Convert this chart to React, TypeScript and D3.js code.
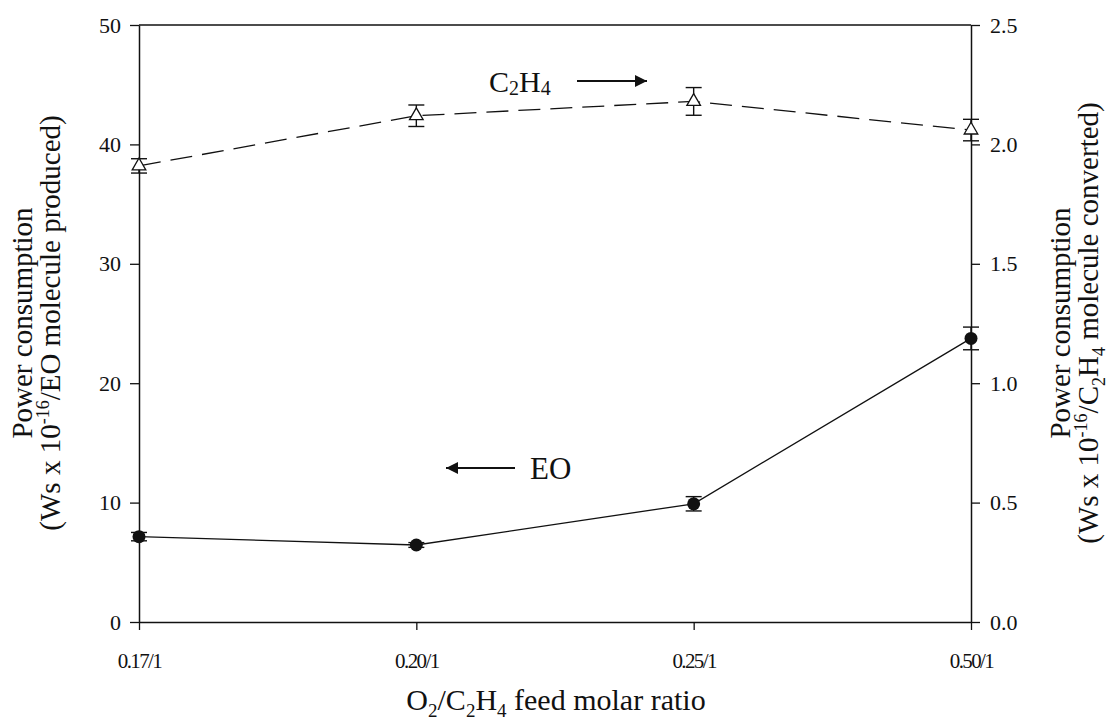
import * as d3 from "d3";
import React from "react";

const ratios = ["0.17/1", "0.20/1", "0.25/1", "0.50/1"];
const eoPower = [7.15, 6.45, 9.9, 23.75];
const eoErr = [0.35, 0.2, 0.6, 0.95];
const c2h4Power = [1.91, 2.12, 2.18, 2.06];
const c2h4Err = [0.03, 0.045, 0.058, 0.045];
const leftTicks = [0, 10, 20, 30, 40, 50];
const rightTicks = [0, 0.5, 1.0, 1.5, 2.0, 2.5];

const W = 1115;
const H = 721;
const margin = { top: 25, right: 144, bottom: 99, left: 139 };
const FONT = "'Liberation Serif', 'DejaVu Serif', serif";

export default function App() {
  const svgRef = React.useRef<SVGSVGElement>(null);

  React.useEffect(() => {
    document.body.style.margin = "0";
    if (!svgRef.current) return;
    const svg = d3.select(svgRef.current);
    svg.selectAll("*").remove();

    const innerW = W - margin.left - margin.right;
    const innerH = H - margin.top - margin.bottom;

    const x = d3.scalePoint<string>().domain(ratios).range([0, innerW]).padding(0);
    const yL = d3.scaleLinear().domain([0, 50]).range([innerH, 0]);
    const yR = d3.scaleLinear().domain([0, 2.5]).range([innerH, 0]);

    const defs = svg.append("defs");
    defs
      .append("marker")
      .attr("id", "arrow")
      .attr("viewBox", "0 0 10 10")
      .attr("refX", 10)
      .attr("refY", 5)
      .attr("markerWidth", 20)
      .attr("markerHeight", 12)
      .attr("markerUnits", "userSpaceOnUse")
      .attr("orient", "auto")
      .append("path")
      .attr("d", "M0,0 L10,5 L0,10 Z")
      .attr("fill", "#111");

    const g = svg.append("g").attr("transform", `translate(${margin.left},${margin.top})`);

    // frame top line
    g.append("line").attr("x1", 0).attr("x2", innerW).attr("y1", 0).attr("y2", 0).attr("stroke", "#111").attr("stroke-width", 1.5);

    const styleAxis = (sel: any, size: number) => {
      sel.select(".domain").attr("stroke", "#111").attr("stroke-width", 1.5);
      sel.selectAll(".tick line").attr("stroke", "#111").attr("stroke-width", 1.3);
      sel.selectAll("text").attr("font-family", FONT).attr("font-size", size).attr("fill", "#111");
    };

    const xAxis = g
      .append("g")
      .attr("transform", `translate(0,${innerH})`)
      .call(d3.axisBottom(x).tickSize(8).tickSizeOuter(0).tickPadding(23) as any);
    styleAxis(xAxis, 21);
    xAxis.selectAll("text").attr("letter-spacing", "-1.6");

    const yAxisL = g
      .append("g")
      .call(d3.axisLeft(yL).tickValues(leftTicks).tickSize(9).tickSizeOuter(0).tickPadding(9).tickFormat(d3.format("d")) as any);
    styleAxis(yAxisL, 22);

    const yAxisR = g
      .append("g")
      .attr("transform", `translate(${innerW},0)`)
      .call(d3.axisRight(yR).tickValues(rightTicks).tickSize(9).tickSizeOuter(0).tickPadding(10).tickFormat(d3.format(".1f")) as any);
    styleAxis(yAxisR, 22);

    const idx = d3.range(ratios.length);

    // C2H4 dashed series
    const lineR = d3
      .line<number>()
      .x((i) => x(ratios[i]) as number)
      .y((i) => yR(c2h4Power[i]));
    g.append("path")
      .datum(idx)
      .attr("fill", "none")
      .attr("stroke", "#111")
      .attr("stroke-width", 1.3)
      .attr("stroke-dasharray", "22,10")
      .attr("d", lineR);

    // EO solid series
    const lineL = d3
      .line<number>()
      .x((i) => x(ratios[i]) as number)
      .y((i) => yL(eoPower[i]));
    g.append("path")
      .datum(idx)
      .attr("fill", "none")
      .attr("stroke", "#111")
      .attr("stroke-width", 1.3)
      .attr("d", lineL);

    const errBars = (vals: number[], errs: number[], y: d3.ScaleLinear<number, number>) => {
      idx.forEach((i) => {
        const cx = x(ratios[i]) as number;
        const top = y(vals[i] + errs[i]);
        const bot = y(vals[i] - errs[i]);
        const eg = g.append("g").attr("stroke", "#111").attr("stroke-width", 1.4);
        eg.append("line").attr("x1", cx).attr("x2", cx).attr("y1", top).attr("y2", bot);
        eg.append("line").attr("x1", cx - 8).attr("x2", cx + 8).attr("y1", top).attr("y2", top);
        eg.append("line").attr("x1", cx - 8).attr("x2", cx + 8).attr("y1", bot).attr("y2", bot);
      });
    };
    errBars(c2h4Power, c2h4Err, yR);
    errBars(eoPower, eoErr, yL);

    // triangles
    g.selectAll("path.tri")
      .data(idx)
      .enter()
      .append("path")
      .attr("class", "tri")
      .attr("d", d3.symbol().type(d3.symbolTriangle).size(80))
      .attr("transform", (i) => `translate(${x(ratios[i])},${yR(c2h4Power[i])})`)
      .attr("fill", "#fff")
      .attr("stroke", "#111")
      .attr("stroke-width", 1.3);

    // circles
    g.selectAll("circle.eo")
      .data(idx)
      .enter()
      .append("circle")
      .attr("class", "eo")
      .attr("cx", (i) => x(ratios[i]) as number)
      .attr("cy", (i) => yL(eoPower[i]))
      .attr("r", 6.5)
      .attr("fill", "#111");

    // series annotations
    const ann = svg.append("g").attr("font-family", FONT).attr("fill", "#111");
    const c2 = ann.append("text").attr("x", 489).attr("y", 92).attr("font-size", 30);
    c2.append("tspan").text("C");
    c2.append("tspan").attr("font-size", 20).attr("dy", 3).text("2");
    c2.append("tspan").attr("dy", -3).text("H");
    c2.append("tspan").attr("font-size", 20).attr("dy", 3).text("4");
    ann.append("line")
      .attr("x1", 577).attr("x2", 647).attr("y1", 81).attr("y2", 81)
      .attr("stroke", "#111").attr("stroke-width", 2).attr("marker-end", "url(#arrow)");

    ann.append("line")
      .attr("x1", 515).attr("x2", 446).attr("y1", 468).attr("y2", 468)
      .attr("stroke", "#111").attr("stroke-width", 2).attr("marker-end", "url(#arrow)");
    ann.append("text").attr("x", 530).attr("y", 479).attr("font-size", 31).text("EO");

    // left axis title
    const lt = svg.append("g").attr("font-family", FONT).attr("fill", "#111").attr("font-size", 29).attr("text-anchor", "middle");
    lt.append("text").attr("transform", `translate(32,323) rotate(-90)`).text("Power consumption");
    const l2 = lt.append("text").attr("transform", `translate(60,323) rotate(-90)`);
    l2.append("tspan").text("(Ws x 10");
    l2.append("tspan").attr("font-size", 18).attr("dy", -11).text("-16");
    l2.append("tspan").attr("dy", 11).text("/EO molecule produced)");

    // right axis title
    lt.append("text").attr("transform", `translate(1070,323) rotate(-90)`).text("Power consumption");
    const r2 = lt.append("text").attr("transform", `translate(1098,323) rotate(-90)`);
    r2.append("tspan").text("(Ws x 10");
    r2.append("tspan").attr("font-size", 18).attr("dy", -11).text("-16");
    r2.append("tspan").attr("dy", 11).text("/C");
    r2.append("tspan").attr("font-size", 18).attr("dy", 7).text("2");
    r2.append("tspan").attr("dy", -7).text("H");
    r2.append("tspan").attr("font-size", 18).attr("dy", 7).text("4");
    r2.append("tspan").attr("dy", -7).text(" molecule converted)");

    // x axis title
    const xt = svg.append("text").attr("x", 556).attr("y", 710).attr("font-family", FONT).attr("font-size", 30).attr("fill", "#111").attr("text-anchor", "middle");
    xt.append("tspan").text("O");
    xt.append("tspan").attr("font-size", 19).attr("dy", 7).text("2");
    xt.append("tspan").attr("dy", -7).text("/C");
    xt.append("tspan").attr("font-size", 19).attr("dy", 7).text("2");
    xt.append("tspan").attr("dy", -7).text("H");
    xt.append("tspan").attr("font-size", 19).attr("dy", 7).text("4");
    xt.append("tspan").attr("dy", -7).text(" feed molar ratio");
  }, []);

  return <svg ref={svgRef} width={W} height={H} style={{ display: "block", background: "#fff" }} />;
}
